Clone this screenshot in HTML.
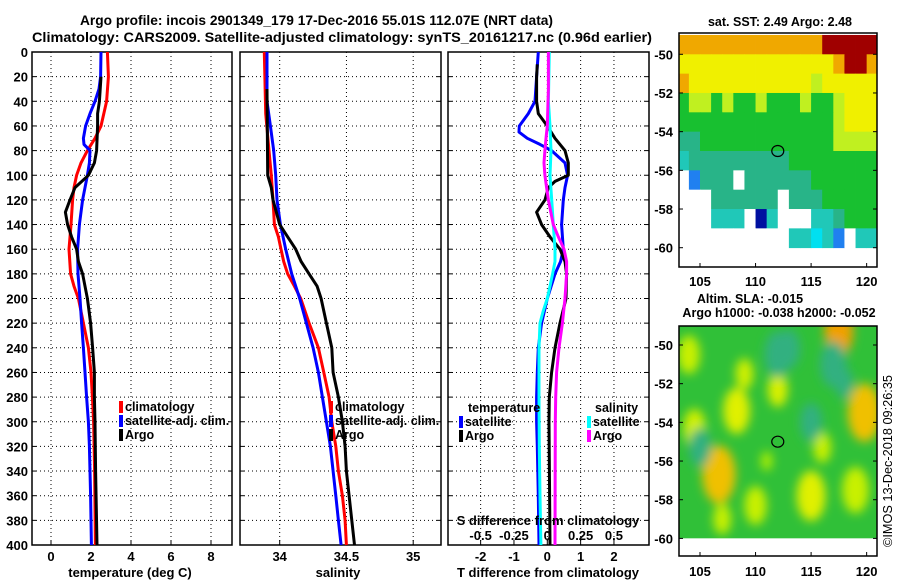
<!DOCTYPE html>
<html><head><meta charset="utf-8">
<style>
html,body{margin:0;padding:0;background:#fff;}
svg{display:block;font-family:"Liberation Sans",sans-serif;font-weight:bold;}
</style></head>
<body>
<svg id="c" width="900" height="580" viewBox="0 0 900 580" xmlns="http://www.w3.org/2000/svg">
<defs>
<clipPath id="clipTop"><rect x="679" y="33" width="198" height="234"/></clipPath>
<clipPath id="clipBot"><rect x="679" y="326" width="198" height="230"/></clipPath>
<filter id="blur" x="-50%" y="-50%" width="200%" height="200%"><feGaussianBlur stdDeviation="5"/></filter>
</defs>
<text x="80" y="25" textLength="473" lengthAdjust="spacingAndGlyphs" font-size="14">Argo profile: incois 2901349_179 17-Dec-2016 55.01S 112.07E (NRT data)</text>
<text x="32" y="42" textLength="620" lengthAdjust="spacingAndGlyphs" font-size="14">Climatology: CARS2009. Satellite-adjusted climatology: synTS_20161217.nc (0.96d earlier)</text>
<g id="g"></g>
</svg>
<script>
// ---------- data ----------
const depthsTclim = [0,20,40,60,70,80,90,100,110,120,140,160,180,190,200,220,240,260,280,300,340,400];
const tempClim    = [2.82,2.87,2.78,2.5,2.2,1.82,1.5,1.28,1.15,1.08,1.0,0.9,0.98,1.15,1.37,1.62,1.87,2.0,2.07,2.13,2.18,2.22];
const depthsTsat  = [0,20,30,40,50,60,70,75,80,90,100,110,120,140,160,180,200,220,240,260,280,300,320,340,360,400];
const tempSat     = [2.5,2.48,2.4,2.2,1.95,1.73,1.62,1.65,1.95,1.92,1.82,1.7,1.58,1.42,1.33,1.35,1.45,1.53,1.62,1.7,1.78,1.87,1.92,1.95,1.98,2.02];
const depthsTargo = [20,40,50,60,80,90,100,110,120,130,140,150,160,170,180,200,220,240,260,280,300,340,400];
const tempArgo    = [2.5,2.42,2.33,2.33,2.28,2.17,1.87,1.2,0.95,0.72,0.83,1.03,1.28,1.37,1.58,1.82,1.98,2.08,2.17,2.17,2.2,2.23,2.3];

const depthsS     = [0,50,80,100,120,140,150,160,170,180,190,200,220,240,260,280,300,320,340,360,380,400];
const salClim     = [33.885,33.895,33.92,33.937,33.95,33.96,33.99,34.01,34.03,34.06,34.11,34.157,34.22,34.29,34.33,34.37,34.39,34.42,34.44,34.47,34.49,34.5];
const depthsSsat  = [0,40,60,80,100,120,140,160,180,200,220,240,260,280,300,320,340,360,380,400];
const salSat      = [33.905,33.905,33.93,33.955,33.97,33.98,34.005,34.045,34.09,34.15,34.2,34.25,34.29,34.32,34.35,34.38,34.4,34.42,34.44,34.46];
const depthsSargo = [30,100,110,120,140,150,160,170,180,190,200,220,240,260,280,300,320,340,360,380,400];
const salArgo     = [33.905,33.91,33.937,33.95,34.0,34.06,34.12,34.16,34.22,34.28,34.31,34.35,34.39,34.4,34.44,34.47,34.49,34.5,34.52,34.54,34.56];

const depthsDT1   = [0,20,40,50,60,65,70,75,80,90,100,110,120,140,160,170,180,200,220,240,260,280,300,320,360,400];
const dTsat       = [-0.27,-0.32,-0.37,-0.57,-0.84,-0.85,-0.6,-0.22,0.13,0.53,0.61,0.53,0.48,0.43,0.48,0.4,0.23,0,-0.17,-0.27,-0.3,-0.32,-0.32,-0.3,-0.27,-0.25];
const depthsDT2   = [10,20,40,50,60,70,80,90,100,105,110,120,130,140,150,160,170,180,200,220,240,260,280,300,400];
const dTargo      = [-0.3,-0.32,-0.32,-0.27,0,0.23,0.53,0.63,0.63,0.23,0.03,-0.07,-0.32,-0.17,0.08,0.38,0.53,0.58,0.56,0.38,0.23,0.13,0.06,0.05,0.08];
const depthsDS1   = [0,40,60,80,100,120,140,160,170,180,190,200,210,220,240,280,320,360,400];
const dSsat       = [0.015,0.008,0.02,0.028,0.02,0.033,0.045,0.058,0.058,0.04,0.02,0,-0.03,-0.055,-0.062,-0.062,-0.06,-0.055,-0.048];
const depthsDS2   = [0,30,60,70,80,90,100,110,120,140,150,160,170,180,200,220,240,260,280,300,400];
const dSargo      = [0.008,0.008,0,-0.01,-0.018,-0.025,-0.018,-0.005,0.008,0.045,0.083,0.125,0.145,0.145,0.133,0.113,0.088,0.07,0.063,0.06,0.058];

const depthTicks = [0,20,40,60,80,100,120,140,160,180,200,220,240,260,280,300,320,340,360,380,400];
const tTicks = [0,2,4,6,8];
const sTicks = [34,34.5,35];
const sTickLabels = ["34","34.5","35"];
const dtTicks = [-2,-1,0,1,2];
const dsTicks = [-0.5,-0.25,0,0.25,0.5];
const dsTickLabels = ["-0.5","-0.25","0","0.25","0.5"];
const latTicks = [-50,-52,-54,-56,-58,-60];
const lonTicks = [105,110,115,120];

// SST map grid: rows lat -49..-60 (1 deg), columns lon 103..120
const sstRows = [
 "OOOOOOOOOOOOORRRRR",
 "YYYYYYYYYYYYYYORRO",
 "OYYYYYYYYYYYLYYYYY",
 "GLLGLGGLGGGLGGLYYY",
 "GGGGGGGGGGGGGGLYYY",
 "ggGGGGGGGGGGGGLLLL",
 "CgggggggggGGGGGGGG",
 "WBgggWggggggGGGGGG",
 "WWWggggggWgggGGGGG",
 "WWWCCCWDCWWWCCgGGG",
 "WWWWWWWWWWCCcCBWCC"
];
const sstColors = {O:"#f0a800",Y:"#f0f000",L:"#c0f020",G:"#18c030",g:"#28b488",C:"#20c8b8",c:"#00e0f0",B:"#2080f0",D:"#0010a0",R:"#a00000",W:"#ffffff"};
// SLA map blobs: lon, lat, radius(deg), colour
const slaLon = [106.7,119.8,117.5,108.3,104.5,112,115,116,110,104,113,119,107,111,118,105,112,115,117,109];
const slaLat = [-56.7,-53.5,-49.3,-53.4,-54.3,-52.3,-57.8,-55.3,-58.3,-50.5,-50.2,-57.5,-59,-56,-52,-55.3,-50.5,-54,-51,-51.5];
const slaRad = [1.5,1.5,1.3,1.2,1.0,0.9,1.3,0.8,1.0,1.0,1.0,1.2,0.8,0.5,0.8,1.0,1.2,1.0,1.2,0.8];
const slaCol = ["#f0c000","#f0c000","#f0a000","#e0f000","#d0f000","#d8f000","#e0f000","#c8f000","#c8f000","#c8f000","#30b080","#c8f000","#c8f000","#b0f000","#30b080","#30b080","#30b080","#30b080","#30b080","#d0f000"];

// ---------- helpers ----------
const NS="http://www.w3.org/2000/svg";
const G=document.getElementById('g');
function mk(tag,attrs,parent){const e=document.createElementNS(NS,tag);for(const k in attrs)e.setAttribute(k,attrs[k]);(parent||G).appendChild(e);return e;}
const Y0=52, Y1=545;
const yD = d => Y0 + d*(Y1-Y0)/400;
const x1 = t => 51 + 20*t;
const x2 = s => 279.7 + (s-34)*133.5;
const x3 = t => 547.3 + t*33.33;
const x3s = s => 547.3 + s*133.33;

function panel(left,right,name){
  const r=mk('rect',{x:left,y:Y0,width:right-left,height:Y1-Y0,fill:'none',stroke:'#000','stroke-width':1.5});
  
  
  depthTicks.forEach((d,i)=>{
    if(i>0&&i<depthTicks.length-1){
      const l=mk('line',{x1:left,x2:right,y1:yD(d),y2:yD(d),stroke:'#000','stroke-dasharray':'1,3','stroke-width':1});
      
      
    }
    mk('line',{x1:left,x2:left+4,y1:yD(d),y2:yD(d),stroke:'#000'});
    mk('line',{x1:right-4,x2:right,y1:yD(d),y2:yD(d),stroke:'#000'});
  });
}
function vgrid(xs,name){
  xs.forEach(x=>{
    const l=mk('line',{x1:x,x2:x,y1:Y0,y2:Y1,stroke:'#000','stroke-dasharray':'1,3','stroke-width':1});
    
    
    mk('line',{x1:x,x2:x,y1:Y1,y2:Y1-5,stroke:'#000'});
  });
}
function curve(ds,vs,fx,color,name){
  let p='';
  ds.forEach((d,i)=>{p+=(i?'L':'M')+fx(vs[i]).toFixed(1)+' '+yD(d).toFixed(1);});
  const e=mk('path',{d:p,fill:'none',stroke:color,'stroke-width':3,'stroke-linejoin':'round'});
  
  
}
function txt(x,y,s,opts,name){
  const e=mk('text',Object.assign({x:x,y:y,'font-size':13},opts||{}));
  e.textContent=s;
  
  
  return e;
}
function legendEntry(x,y,color,label,name){
  const m=mk('rect',{x:x,y:y-10,width:4,height:12,fill:color});
  
  
  txt(x+6,y,label,{'font-size':12.5},name);
}

// ---------- panel 1 ----------
panel(32,232,'temperature-panel');
vgrid(tTicks.map(x1),'temperature');
depthTicks.forEach(d=>txt(28,yD(d)+5,String(d),{'text-anchor':'end'},'y-tick-label'));
tTicks.forEach(t=>txt(x1(t),561,String(t),{'text-anchor':'middle'},'temperature-x-tick-label'));
txt(130,577,'temperature (deg C)',{'text-anchor':'middle'},'temperature-x-axis-title');
curve(depthsTclim,tempClim,x1,'#ff0000','temp-climatology-line');
curve(depthsTsat,tempSat,x1,'#0000ff','temp-satellite-line');
curve(depthsTargo,tempArgo,x1,'#000000','temp-argo-line');
legendEntry(119,411,'#ff0000','climatology','legend-climatology');
legendEntry(119,425,'#0000ff','satellite-adj. clim.','legend-satellite');
legendEntry(119,439,'#000000','Argo','legend-argo');

// ---------- panel 2 ----------
panel(240,441,'salinity-panel');
vgrid(sTicks.map(x2),'salinity');
sTicks.forEach((s,i)=>txt(x2(s),561,sTickLabels[i],{'text-anchor':'middle'},'salinity-x-tick-label'));
txt(338,577,'salinity',{'text-anchor':'middle'},'salinity-x-axis-title');
curve(depthsS,salClim,x2,'#ff0000','sal-climatology-line');
curve(depthsSsat,salSat,x2,'#0000ff','sal-satellite-line');
curve(depthsSargo,salArgo,x2,'#000000','sal-argo-line');
legendEntry(329,411,'#ff0000','climatology','legend-climatology');
legendEntry(329,425,'#0000ff','satellite-adj. clim.','legend-satellite');
legendEntry(329,439,'#000000','Argo','legend-argo');

// ---------- panel 3 ----------
panel(448,649,'difference-panel');
vgrid(dtTicks.map(x3),'difference');
dtTicks.forEach(t=>txt(x3(t),561,String(t),{'text-anchor':'middle'},'t-diff-x-tick-label'));
txt(548,577,'T difference from climatology',{'text-anchor':'middle'},'t-diff-x-axis-title');
curve(depthsDT1,dTsat,x3,'#0000ff','tdiff-satellite-line');
curve(depthsDT2,dTargo,x3,'#000000','tdiff-argo-line');
curve(depthsDS1,dSsat,x3s,'#00ffff','sdiff-satellite-line');
curve(depthsDS2,dSargo,x3s,'#ff00ff','sdiff-argo-line');
txt(548,525,'S difference from climatology',{'text-anchor':'middle'},'s-diff-axis-title');
dsTicks.forEach((s,i)=>txt(x3s(s),540,dsTickLabels[i],{'text-anchor':'middle'},'s-diff-tick-label'));
txt(468,412,'temperature',{'font-size':12.5},'legend-temperature-header');
legendEntry(459,426,'#0000ff','satellite','legend-t-satellite');
legendEntry(459,440,'#000000','Argo','legend-t-argo');
txt(595,412,'salinity',{'font-size':12.5},'legend-salinity-header');
legendEntry(587,426,'#00ffff','satellite','legend-s-satellite');
legendEntry(587,440,'#ff00ff','Argo','legend-s-argo');

// ---------- maps ----------
const DEG=19.34;
const xL = lon => 700 + (lon-105)*11.11;
const yT = lat => 54.3 + (-50-lat)*DEG;
const yB = lat => 345 + (-50-lat)*DEG;

// top SST map
const gt=mk('g',{'clip-path':'url(#clipTop)'});


sstRows.forEach((row,r)=>{
  const lat=-49-r;
  for(let c=0;c<row.length;c++){
    const lon=103+c;
    const e=mk('rect',{x:xL(lon),y:yT(lat),width:11.5,height:DEG+0.4,fill:sstColors[row[c]]},gt);
    
    
  }
});
const ft=mk('rect',{x:679,y:33,width:198,height:234,fill:'none',stroke:'#000','stroke-width':1.5});


const ct=mk('ellipse',{cx:xL(112),cy:yT(-55),rx:6,ry:5.5,fill:'none',stroke:'#000','stroke-width':1.2});


txt(780,26,'sat. SST: 2.49 Argo: 2.48',{'text-anchor':'middle','font-size':12.5},'sst-map-title');

// bottom SLA map
const gb=mk('g',{'clip-path':'url(#clipBot)'});


const base=mk('rect',{x:679,y:326,width:198,height:yB(-60)-326,fill:'#30c038'},gb);


const gbb=mk('g',{filter:'url(#blur)'},gb);
slaLon.forEach((lon,i)=>{
  const e=mk('ellipse',{cx:xL(lon),cy:yB(slaLat[i]),rx:slaRad[i]*11.11,ry:slaRad[i]*DEG,fill:slaCol[i]},gbb);
  
  
});
mk('rect',{x:679,y:yB(-60),width:198,height:556-yB(-60),fill:'#fff'},gb);
const fb=mk('rect',{x:679,y:326,width:198,height:230,fill:'none',stroke:'#000','stroke-width':1.5});


const cb=mk('ellipse',{cx:xL(112),cy:yB(-55),rx:6,ry:5.5,fill:'none',stroke:'#000','stroke-width':1.2});


txt(750,303,'Altim. SLA: -0.015',{'text-anchor':'middle','font-size':12.5},'sla-map-title-1');
txt(779,317,'Argo h1000: -0.038 h2000: -0.052',{'text-anchor':'middle','font-size':12.5},'sla-map-title-2');

latTicks.forEach(lat=>{
  txt(673,yT(lat)+5,String(lat),{'text-anchor':'end'},'sst-lat-tick-label');
  mk('line',{x1:679,x2:683,y1:yT(lat),y2:yT(lat),stroke:'#000'});
  mk('line',{x1:873,x2:877,y1:yT(lat),y2:yT(lat),stroke:'#000'});
  txt(673,yB(lat)+5,String(lat),{'text-anchor':'end'},'sla-lat-tick-label');
  mk('line',{x1:679,x2:683,y1:yB(lat),y2:yB(lat),stroke:'#000'});
  mk('line',{x1:873,x2:877,y1:yB(lat),y2:yB(lat),stroke:'#000'});
});
lonTicks.forEach(lon=>{
  txt(xL(lon),286,String(lon),{'text-anchor':'middle'},'sst-lon-tick-label');
  mk('line',{x1:xL(lon),x2:xL(lon),y1:267,y2:263,stroke:'#000'});
  txt(xL(lon),576,String(lon),{'text-anchor':'middle'},'sla-lon-tick-label');
  mk('line',{x1:xL(lon),x2:xL(lon),y1:556,y2:552,stroke:'#000'});
});
txt(0,0,'©IMOS 13-Dec-2018 09:26:35',{'text-anchor':'middle','font-weight':'normal','font-size':12.5,'textLength':172,'lengthAdjust':'spacingAndGlyphs','transform':'translate(892,461) rotate(-90)'},'copyright-timestamp');
</script>
</body></html>
